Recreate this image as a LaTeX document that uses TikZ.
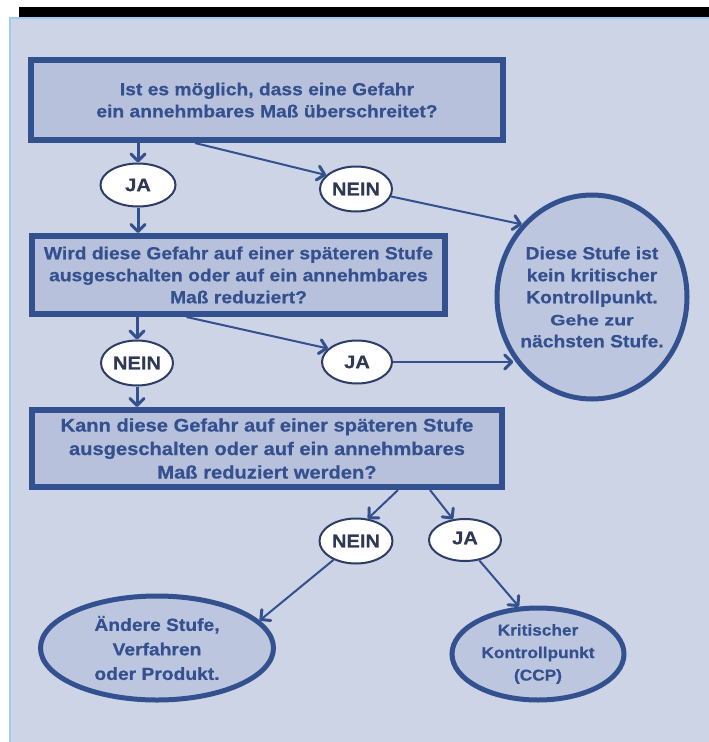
\documentclass[tikz,border=0pt]{standalone}
\usepackage{fontspec}
\setmainfont{Liberation Sans}[FakeStretch=1.1,FakeBold=0.6]
\newfontfamily\gehefont{Liberation Sans}[FakeStretch=1.3,FakeBold=0.6]
\usetikzlibrary{arrows.meta,shapes.geometric}
\definecolor{panel}{HTML}{CDD4E6}
\definecolor{boxfill}{HTML}{B7C1DC}
\definecolor{endfill}{HTML}{BDC6DF}
\definecolor{bord}{HTML}{33508F}
\definecolor{txt}{HTML}{34508F}
\definecolor{smallb}{HTML}{2E3C68}
\definecolor{smalltxt}{HTML}{2F3854}
\definecolor{edgeblue}{HTML}{9CCBFA}
\begin{document}
\begin{tikzpicture}[x=1pt,y=-1pt,
  qbox/.style={draw=bord, line width=6pt, fill=boxfill, inner sep=0pt, align=center,
    text=txt, font=\bfseries\fontsize{17.5}{22}\selectfont},
  endell/.style={ellipse, draw=bord, line width=5pt, fill=endfill, inner sep=0pt, align=center,
    text=txt, font=\bfseries\fontsize{17.5}{22}\selectfont},
  ans/.style={ellipse, draw=smallb, line width=2pt, fill=white, inner sep=0pt,
    text=smalltxt, font=\bfseries\fontsize{18.3}{20}\selectfont},
  arr/.style={draw=bord, line width=2pt, -{Straight Barb[length=7pt,width=14pt,line width=3pt,round]}},
  varr/.style={arr, line width=3pt}
]
\useasboundingbox (0,0) rectangle (709,742);
\fill[white] (0,0) rectangle (709,742);
\fill[black] (19,7) rectangle (709,17);
\fill[panel] (9,17) rectangle (709,742);
\draw[edgeblue, line width=2pt] (10,742) -- (10,18) -- (709,18);

% question boxes
\node[qbox, minimum width=472, minimum height=80] (q1) at (267,100)
  {Ist es möglich, dass eine Gefahr\\ein annehmbares Maß überschreitet?};
\node[qbox, minimum width=413, minimum height=78] (q2) at (238.5,275)
  {Wird diese Gefahr auf einer späteren Stufe\\ausgeschalten oder auf ein annehmbares\\Maß reduziert?};
\node[qbox, minimum width=470, minimum height=77, font=\bfseries\fontsize{18.3}{23.5}\selectfont] (q3) at (267,448.5)
  {Kann diese Gefahr auf einer späteren Stufe\\ausgeschalten oder auf ein annehmbares\\Maß reduziert werden?};

% answers
\node[ans, minimum width=75, minimum height=43] (ja1) at (138,185) {JA};
\node[ans, minimum width=72, minimum height=45] (nein1) at (356,189) {NEIN};
\node[ans, minimum width=72, minimum height=45] (nein2) at (137,363) {NEIN};
\node[ans, minimum width=70, minimum height=43] (ja2) at (357,362) {JA};
\node[ans, minimum width=73, minimum height=45] (nein3) at (356,541) {NEIN};
\node[ans, minimum width=72, minimum height=42] (ja3) at (465,540) {\raisebox{4pt}{JA}};

% end states
\node[endell, inner sep=-12pt, minimum width=190, minimum height=204] (stop) at (592,297)
  {Diese Stufe ist\\kein kritischer\\Kontrollpunkt.\\{\gehefont\bfseries\fontsize{15}{22}\selectfont Gehe zur}\\nächsten Stufe.};
\node[endell, minimum width=233, minimum height=104, font=\bfseries\fontsize{17.5}{24.5}\selectfont] (ande) at (157,648)
  {Ändere Stufe,\\Verfahren\\oder Produkt.};
\node[endell, inner sep=-4pt, minimum width=172, minimum height=92, font=\bfseries\fontsize{15.7}{22.5}\selectfont] (kccp) at (538,654)
  {Kritischer\\Kontrollpunkt\\(CCP)};

% connectors
\draw[varr] (q1.south -| ja1) -- (ja1.north);
\draw[arr] ([xshift=-72pt]q1.south) -- (nein1.155);
\draw[arr] (nein1.-12) -- (stop.134);
\draw[varr] (ja1.south) -- (q2.north -| ja1);
\draw[varr] (q2.south -| nein2) -- (nein2.north);
\draw[arr] ([xshift=-52pt]q2.south) -- (ja2.155);
\draw[arr] (ja2.east) -- (ja2.east -| stop.218);
\draw[varr] (nein2.south) -- (q3.north -| nein2);
\draw[arr] ([xshift=131pt]q3.south) -- (nein3.62);
\draw[arr] ([xshift=163pt]q3.south) -- (ja3.120);
\draw[arr] (nein3.220) -- (ande.15);
\draw[arr] (ja3.-55) -- (kccp.112);
\end{tikzpicture}
\end{document}
